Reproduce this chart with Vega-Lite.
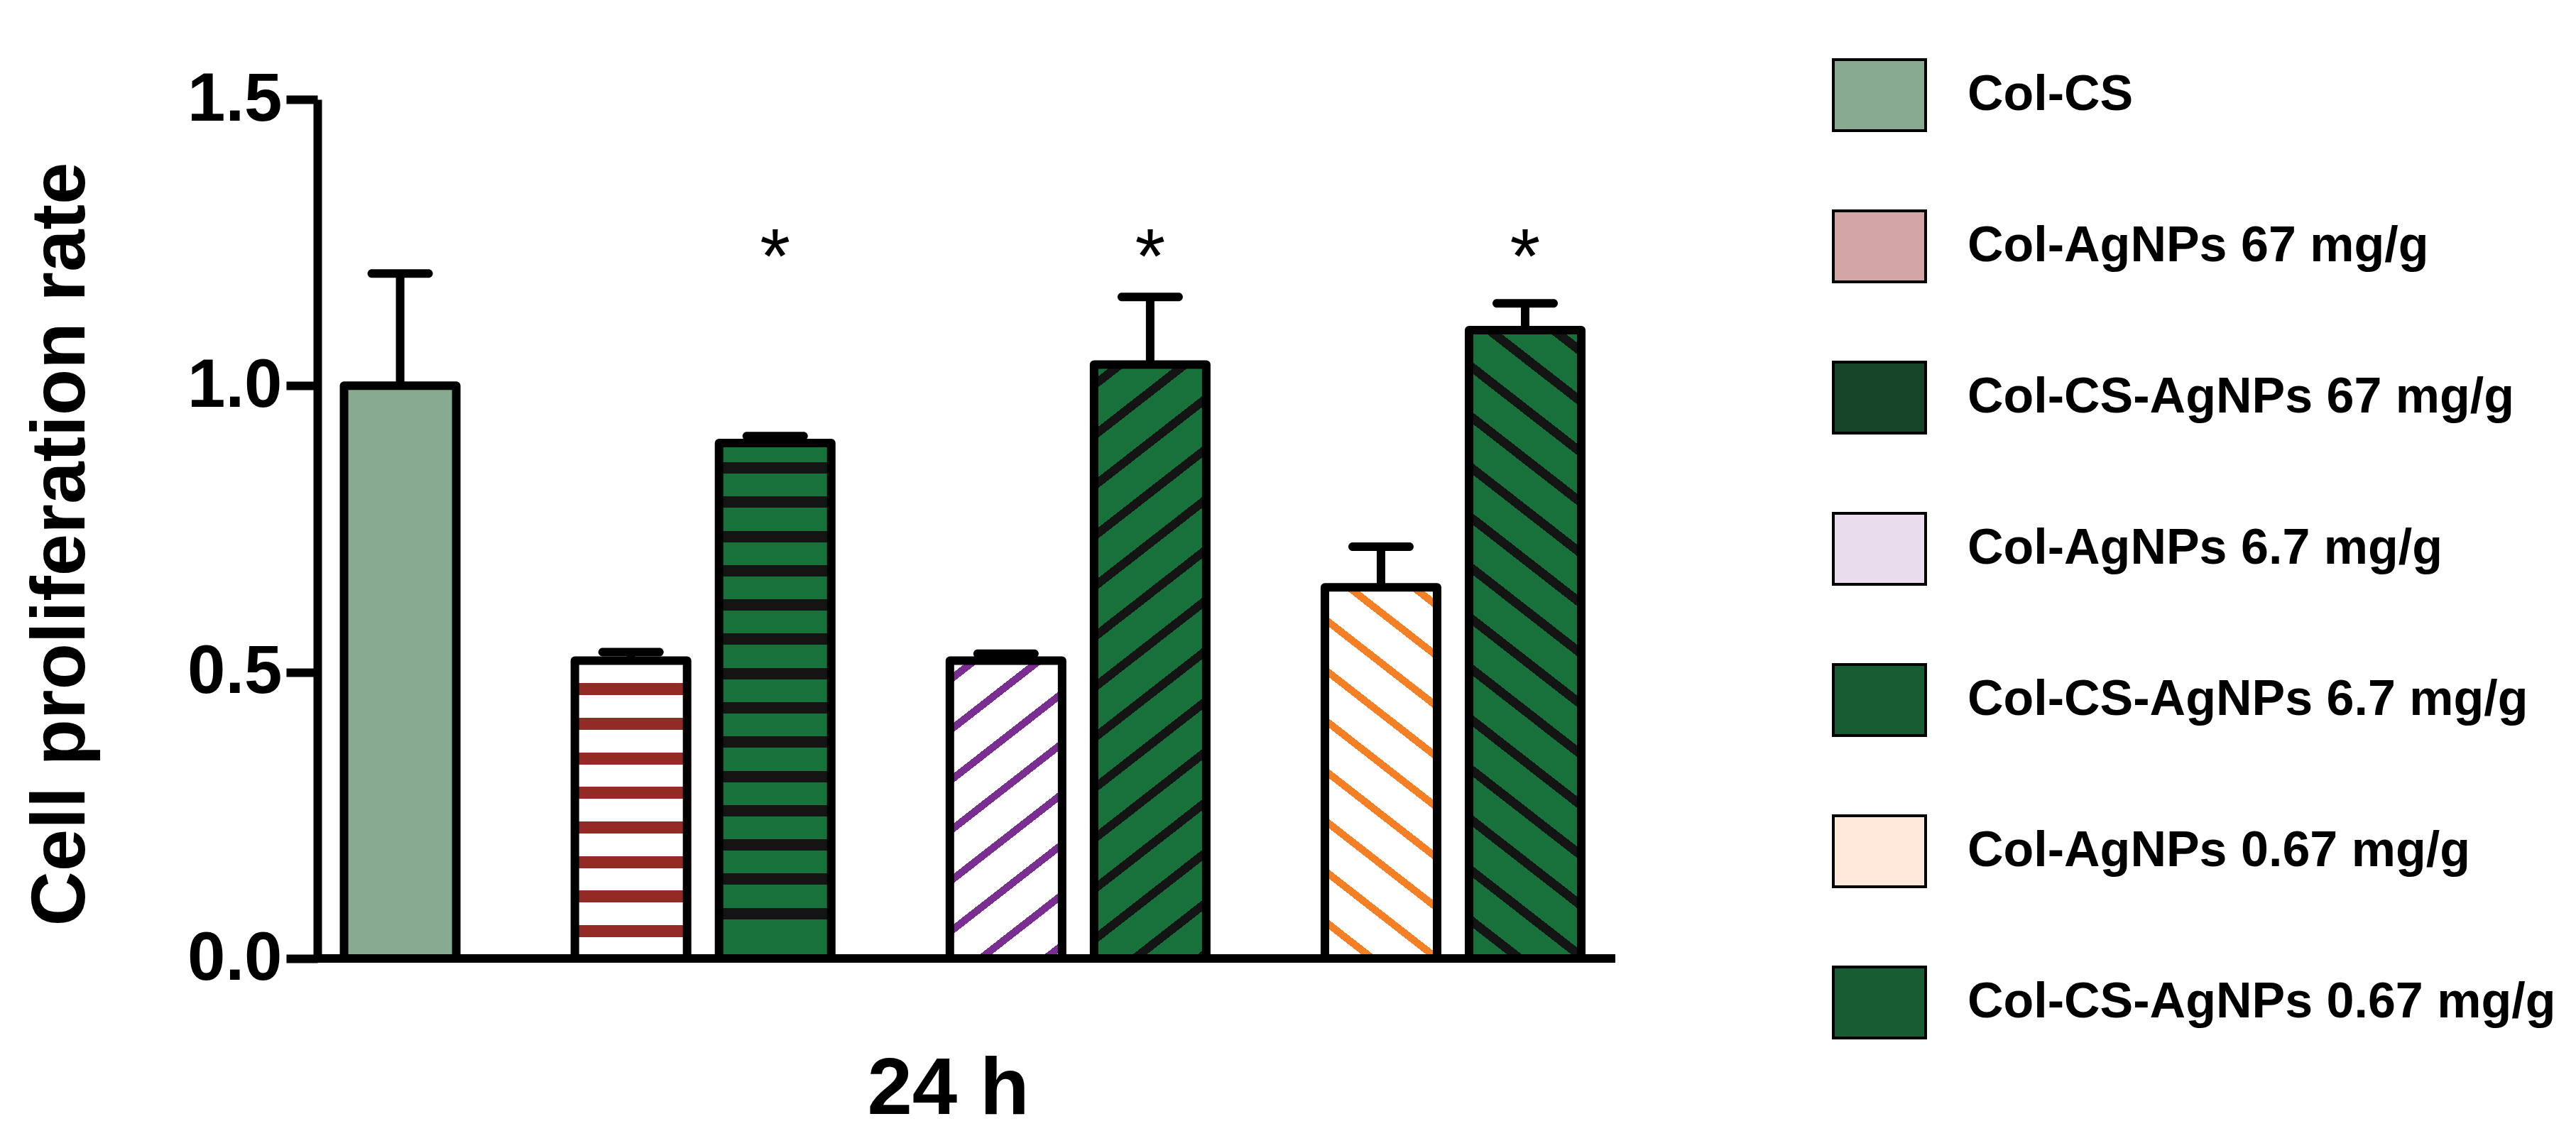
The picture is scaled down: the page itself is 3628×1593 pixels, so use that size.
{
"$schema": "https://vega.github.io/schema/vega-lite/v6.json",
"width": 2016,
"height": 1210,
"autosize": {"type": "none"},
"padding": {"left": 259, "top": 140, "right": 1353, "bottom": 243},
"background": "white",
"config": {"view": {"stroke": null}, "axis": {"grid": false}},
"data": {"values": [
{"series": "Col-CS", "dose": "0", "base": "Col-CS", "rate": 1.0, "upper": 1.196, "sig": ""},
{"series": "Col-AgNPs 67 mg/g", "dose": "67", "base": "Col", "rate": 0.52, "upper": 0.535, "sig": ""},
{"series": "Col-CS-AgNPs 67 mg/g", "dose": "67", "base": "Col-CS", "rate": 0.90, "upper": 0.912, "sig": "*"},
{"series": "Col-AgNPs 6.7 mg/g", "dose": "6.7", "base": "Col", "rate": 0.52, "upper": 0.532, "sig": ""},
{"series": "Col-CS-AgNPs 6.7 mg/g", "dose": "6.7", "base": "Col-CS", "rate": 1.037, "upper": 1.155, "sig": "*"},
{"series": "Col-AgNPs 0.67 mg/g", "dose": "0.67", "base": "Col", "rate": 0.648, "upper": 0.719, "sig": ""},
{"series": "Col-CS-AgNPs 0.67 mg/g", "dose": "0.67", "base": "Col-CS", "rate": 1.097, "upper": 1.144, "sig": "*"}
]},
"layer": [
{
"mark": {"type": "bar", "stroke": "black", "strokeWidth": 12, "strokeJoin": "round"},
"encoding": {
"x": {"field": "dose", "type": "nominal", "sort": null,
 "scale": {"domain": ["0", "67", "6.7", "0.67"], "paddingInner": 0.2311, "paddingOuter": 0.0241, "align": 0},
 "axis": {"title": "24 h", "labels": false, "ticks": false, "domain": false, "titleFont": "Liberation Sans", "titleFontSize": 114, "titleFontWeight": "bold", "titleColor": "black", "titleX": 1076, "titleY": 218, "titleAlign": "center", "titleBaseline": "alphabetic"}},
"xOffset": {"field": "base", "type": "nominal", "scale": {"domain": ["Col", "Col-CS"], "paddingInner": 0.2217, "paddingOuter": 0.1108}},
"y": {"field": "rate", "type": "quantitative",
 "scale": {"domain": [0, 1.5], "nice": false, "zero": true},
 "axis": {"title": "Cell proliferation rate", "values": [0, 0.5, 1, 1.5], "format": ".1f", "offset": -188,
  "domainColor": "black", "domainWidth": 12, "tickColor": "black", "tickWidth": 12, "tickSize": 44,
  "labelFont": "Liberation Sans Narrow, Arial Narrow, Liberation Sans, sans-serif", "labelFontWeight": "bold", "labelFontSize": 96, "labelPadding": 6, "labelColor": "black",
  "titleFont": "Liberation Sans", "titleFontSize": 107, "titleFontWeight": "bold", "titleColor": "black",
  "titleAngle": -90, "titleX": -329, "titleY": 626, "titleAlign": "center", "titleBaseline": "alphabetic"}},
"fill": {"field": "series", "type": "nominal",
 "scale": {"domain": ["Col-CS", "Col-AgNPs 67 mg/g", "Col-CS-AgNPs 67 mg/g", "Col-AgNPs 6.7 mg/g", "Col-CS-AgNPs 6.7 mg/g", "Col-AgNPs 0.67 mg/g", "Col-CS-AgNPs 0.67 mg/g"],
  "range": ["#88aa90", "#d1a6a4", "#164428", "#e9dcec", "#175c32", "#fee9da", "#175c32"]},
 "legend": {"orient": "none", "legendX": 2336, "legendY": -58, "title": null,
  "symbolType": "M-1.3,-1H1.3V1H-1.3Z", "symbolSize": 10000, "symbolStrokeWidth": 4, "symbolStrokeColor": "black", "symbolOpacity": 1,
  "labelFont": "Liberation Sans", "labelFontSize": 70, "labelFontWeight": "bold", "labelColor": "black", "labelOffset": 72, "labelLimit": 0,
  "rowPadding": 97, "padding": 0, "offset": 0},
 "condition": [
  {"test": "datum.series === 'Col-AgNPs 67 mg/g'", "value": {"gradient": "linear", "x1": 0, "y1": 0, "x2": 0, "y2": 1, "stops": [
   {"offset": 0, "color": "#ffffff"},
   {"offset": 0.075, "color": "#ffffff"}, {"offset": 0.075, "color": "#922b26"}, {"offset": 0.115, "color": "#922b26"}, {"offset": 0.115, "color": "#ffffff"},
   {"offset": 0.192, "color": "#ffffff"}, {"offset": 0.192, "color": "#922b26"}, {"offset": 0.232, "color": "#922b26"}, {"offset": 0.232, "color": "#ffffff"},
   {"offset": 0.309, "color": "#ffffff"}, {"offset": 0.309, "color": "#922b26"}, {"offset": 0.349, "color": "#922b26"}, {"offset": 0.349, "color": "#ffffff"},
   {"offset": 0.423, "color": "#ffffff"}, {"offset": 0.423, "color": "#922b26"}, {"offset": 0.463, "color": "#922b26"}, {"offset": 0.463, "color": "#ffffff"},
   {"offset": 0.540, "color": "#ffffff"}, {"offset": 0.540, "color": "#922b26"}, {"offset": 0.580, "color": "#922b26"}, {"offset": 0.580, "color": "#ffffff"},
   {"offset": 0.657, "color": "#ffffff"}, {"offset": 0.657, "color": "#922b26"}, {"offset": 0.697, "color": "#922b26"}, {"offset": 0.697, "color": "#ffffff"},
   {"offset": 0.771, "color": "#ffffff"}, {"offset": 0.771, "color": "#922b26"}, {"offset": 0.811, "color": "#922b26"}, {"offset": 0.811, "color": "#ffffff"},
   {"offset": 0.888, "color": "#ffffff"}, {"offset": 0.888, "color": "#922b26"}, {"offset": 0.928, "color": "#922b26"}, {"offset": 0.928, "color": "#ffffff"},
   {"offset": 1, "color": "#ffffff"}]}},
  {"test": "datum.series === 'Col-CS-AgNPs 67 mg/g'", "value": {"gradient": "linear", "x1": 0, "y1": 0, "x2": 0, "y2": 1, "stops": [
   {"offset": 0, "color": "#18713a"},
   {"offset": 0.037, "color": "#18713a"}, {"offset": 0.037, "color": "#141414"}, {"offset": 0.059, "color": "#141414"}, {"offset": 0.059, "color": "#18713a"},
   {"offset": 0.103, "color": "#18713a"}, {"offset": 0.103, "color": "#141414"}, {"offset": 0.125, "color": "#141414"}, {"offset": 0.125, "color": "#18713a"},
   {"offset": 0.171, "color": "#18713a"}, {"offset": 0.171, "color": "#141414"}, {"offset": 0.193, "color": "#141414"}, {"offset": 0.193, "color": "#18713a"},
   {"offset": 0.237, "color": "#18713a"}, {"offset": 0.237, "color": "#141414"}, {"offset": 0.259, "color": "#141414"}, {"offset": 0.259, "color": "#18713a"},
   {"offset": 0.303, "color": "#18713a"}, {"offset": 0.303, "color": "#141414"}, {"offset": 0.325, "color": "#141414"}, {"offset": 0.325, "color": "#18713a"},
   {"offset": 0.369, "color": "#18713a"}, {"offset": 0.369, "color": "#141414"}, {"offset": 0.391, "color": "#141414"}, {"offset": 0.391, "color": "#18713a"},
   {"offset": 0.437, "color": "#18713a"}, {"offset": 0.437, "color": "#141414"}, {"offset": 0.459, "color": "#141414"}, {"offset": 0.459, "color": "#18713a"},
   {"offset": 0.503, "color": "#18713a"}, {"offset": 0.503, "color": "#141414"}, {"offset": 0.525, "color": "#141414"}, {"offset": 0.525, "color": "#18713a"},
   {"offset": 0.569, "color": "#18713a"}, {"offset": 0.569, "color": "#141414"}, {"offset": 0.591, "color": "#141414"}, {"offset": 0.591, "color": "#18713a"},
   {"offset": 0.636, "color": "#18713a"}, {"offset": 0.636, "color": "#141414"}, {"offset": 0.658, "color": "#141414"}, {"offset": 0.658, "color": "#18713a"},
   {"offset": 0.703, "color": "#18713a"}, {"offset": 0.703, "color": "#141414"}, {"offset": 0.725, "color": "#141414"}, {"offset": 0.725, "color": "#18713a"},
   {"offset": 0.769, "color": "#18713a"}, {"offset": 0.769, "color": "#141414"}, {"offset": 0.791, "color": "#141414"}, {"offset": 0.791, "color": "#18713a"},
   {"offset": 0.835, "color": "#18713a"}, {"offset": 0.835, "color": "#141414"}, {"offset": 0.857, "color": "#141414"}, {"offset": 0.857, "color": "#18713a"},
   {"offset": 0.902, "color": "#18713a"}, {"offset": 0.902, "color": "#141414"}, {"offset": 0.924, "color": "#141414"}, {"offset": 0.924, "color": "#18713a"},
   {"offset": 1, "color": "#18713a"}]}},
  {"test": "datum.series === 'Col-AgNPs 6.7 mg/g'", "value": {"gradient": "linear", "x1": 0, "y1": 0, "x2": 0.3498, "y2": 1.191, "stops": [
   {"offset": 0, "color": "#ffffff"},
   {"offset": 0.038, "color": "#ffffff"}, {"offset": 0.038, "color": "#7b2e91"}, {"offset": 0.062, "color": "#7b2e91"}, {"offset": 0.062, "color": "#ffffff"},
   {"offset": 0.169, "color": "#ffffff"}, {"offset": 0.169, "color": "#7b2e91"}, {"offset": 0.193, "color": "#7b2e91"}, {"offset": 0.193, "color": "#ffffff"},
   {"offset": 0.300, "color": "#ffffff"}, {"offset": 0.300, "color": "#7b2e91"}, {"offset": 0.324, "color": "#7b2e91"}, {"offset": 0.324, "color": "#ffffff"},
   {"offset": 0.430, "color": "#ffffff"}, {"offset": 0.430, "color": "#7b2e91"}, {"offset": 0.454, "color": "#7b2e91"}, {"offset": 0.454, "color": "#ffffff"},
   {"offset": 0.561, "color": "#ffffff"}, {"offset": 0.561, "color": "#7b2e91"}, {"offset": 0.585, "color": "#7b2e91"}, {"offset": 0.585, "color": "#ffffff"},
   {"offset": 0.692, "color": "#ffffff"}, {"offset": 0.692, "color": "#7b2e91"}, {"offset": 0.716, "color": "#7b2e91"}, {"offset": 0.716, "color": "#ffffff"},
   {"offset": 0.823, "color": "#ffffff"}, {"offset": 0.823, "color": "#7b2e91"}, {"offset": 0.847, "color": "#7b2e91"}, {"offset": 0.847, "color": "#ffffff"},
   {"offset": 0.954, "color": "#ffffff"}, {"offset": 0.954, "color": "#7b2e91"}, {"offset": 0.978, "color": "#7b2e91"}, {"offset": 0.978, "color": "#ffffff"},
   {"offset": 1, "color": "#ffffff"}]}},
  {"test": "datum.series === 'Col-CS-AgNPs 6.7 mg/g'", "value": {"gradient": "linear", "x1": 0, "y1": 0, "x2": 0.1654, "y2": 1.1229, "stops": [
   {"offset": 0, "color": "#18713a"},
   {"offset": 0.022, "color": "#18713a"}, {"offset": 0.022, "color": "#141414"}, {"offset": 0.038, "color": "#141414"}, {"offset": 0.038, "color": "#18713a"},
   {"offset": 0.096, "color": "#18713a"}, {"offset": 0.096, "color": "#141414"}, {"offset": 0.112, "color": "#141414"}, {"offset": 0.112, "color": "#18713a"},
   {"offset": 0.170, "color": "#18713a"}, {"offset": 0.170, "color": "#141414"}, {"offset": 0.186, "color": "#141414"}, {"offset": 0.186, "color": "#18713a"},
   {"offset": 0.244, "color": "#18713a"}, {"offset": 0.244, "color": "#141414"}, {"offset": 0.260, "color": "#141414"}, {"offset": 0.260, "color": "#18713a"},
   {"offset": 0.318, "color": "#18713a"}, {"offset": 0.318, "color": "#141414"}, {"offset": 0.334, "color": "#141414"}, {"offset": 0.334, "color": "#18713a"},
   {"offset": 0.392, "color": "#18713a"}, {"offset": 0.392, "color": "#141414"}, {"offset": 0.408, "color": "#141414"}, {"offset": 0.408, "color": "#18713a"},
   {"offset": 0.466, "color": "#18713a"}, {"offset": 0.466, "color": "#141414"}, {"offset": 0.482, "color": "#141414"}, {"offset": 0.482, "color": "#18713a"},
   {"offset": 0.540, "color": "#18713a"}, {"offset": 0.540, "color": "#141414"}, {"offset": 0.556, "color": "#141414"}, {"offset": 0.556, "color": "#18713a"},
   {"offset": 0.614, "color": "#18713a"}, {"offset": 0.614, "color": "#141414"}, {"offset": 0.630, "color": "#141414"}, {"offset": 0.630, "color": "#18713a"},
   {"offset": 0.688, "color": "#18713a"}, {"offset": 0.688, "color": "#141414"}, {"offset": 0.704, "color": "#141414"}, {"offset": 0.704, "color": "#18713a"},
   {"offset": 0.762, "color": "#18713a"}, {"offset": 0.762, "color": "#141414"}, {"offset": 0.778, "color": "#141414"}, {"offset": 0.778, "color": "#18713a"},
   {"offset": 0.836, "color": "#18713a"}, {"offset": 0.836, "color": "#141414"}, {"offset": 0.852, "color": "#141414"}, {"offset": 0.852, "color": "#18713a"},
   {"offset": 0.910, "color": "#18713a"}, {"offset": 0.910, "color": "#141414"}, {"offset": 0.926, "color": "#141414"}, {"offset": 0.926, "color": "#18713a"},
   {"offset": 0.984, "color": "#18713a"}, {"offset": 0.984, "color": "#141414"}, {"offset": 1, "color": "#141414"}]}},
  {"test": "datum.series === 'Col-AgNPs 0.67 mg/g'", "value": {"gradient": "linear", "x1": 1, "y1": 0, "x2": 0.7241, "y2": 1.1707, "stops": [
   {"offset": 0, "color": "#ffffff"},
   {"offset": 0.030, "color": "#ffffff"}, {"offset": 0.030, "color": "#f47f24"}, {"offset": 0.050, "color": "#f47f24"}, {"offset": 0.050, "color": "#ffffff"},
   {"offset": 0.140, "color": "#ffffff"}, {"offset": 0.140, "color": "#f47f24"}, {"offset": 0.160, "color": "#f47f24"}, {"offset": 0.160, "color": "#ffffff"},
   {"offset": 0.250, "color": "#ffffff"}, {"offset": 0.250, "color": "#f47f24"}, {"offset": 0.270, "color": "#f47f24"}, {"offset": 0.270, "color": "#ffffff"},
   {"offset": 0.360, "color": "#ffffff"}, {"offset": 0.360, "color": "#f47f24"}, {"offset": 0.380, "color": "#f47f24"}, {"offset": 0.380, "color": "#ffffff"},
   {"offset": 0.470, "color": "#ffffff"}, {"offset": 0.470, "color": "#f47f24"}, {"offset": 0.490, "color": "#f47f24"}, {"offset": 0.490, "color": "#ffffff"},
   {"offset": 0.580, "color": "#ffffff"}, {"offset": 0.580, "color": "#f47f24"}, {"offset": 0.600, "color": "#f47f24"}, {"offset": 0.600, "color": "#ffffff"},
   {"offset": 0.689, "color": "#ffffff"}, {"offset": 0.689, "color": "#f47f24"}, {"offset": 0.709, "color": "#f47f24"}, {"offset": 0.709, "color": "#ffffff"},
   {"offset": 0.799, "color": "#ffffff"}, {"offset": 0.799, "color": "#f47f24"}, {"offset": 0.819, "color": "#f47f24"}, {"offset": 0.819, "color": "#ffffff"},
   {"offset": 0.909, "color": "#ffffff"}, {"offset": 0.909, "color": "#f47f24"}, {"offset": 0.929, "color": "#f47f24"}, {"offset": 0.929, "color": "#ffffff"},
   {"offset": 1, "color": "#ffffff"}]}},
  {"test": "datum.series === 'Col-CS-AgNPs 0.67 mg/g'", "value": {"gradient": "linear", "x1": 1, "y1": 0, "x2": 0.8444, "y2": 1.1175, "stops": [
   {"offset": 0, "color": "#18713a"},
   {"offset": 0.022, "color": "#18713a"}, {"offset": 0.022, "color": "#141414"}, {"offset": 0.038, "color": "#141414"}, {"offset": 0.038, "color": "#18713a"},
   {"offset": 0.092, "color": "#18713a"}, {"offset": 0.092, "color": "#141414"}, {"offset": 0.108, "color": "#141414"}, {"offset": 0.108, "color": "#18713a"},
   {"offset": 0.163, "color": "#18713a"}, {"offset": 0.163, "color": "#141414"}, {"offset": 0.179, "color": "#141414"}, {"offset": 0.179, "color": "#18713a"},
   {"offset": 0.233, "color": "#18713a"}, {"offset": 0.233, "color": "#141414"}, {"offset": 0.249, "color": "#141414"}, {"offset": 0.249, "color": "#18713a"},
   {"offset": 0.304, "color": "#18713a"}, {"offset": 0.304, "color": "#141414"}, {"offset": 0.320, "color": "#141414"}, {"offset": 0.320, "color": "#18713a"},
   {"offset": 0.374, "color": "#18713a"}, {"offset": 0.374, "color": "#141414"}, {"offset": 0.390, "color": "#141414"}, {"offset": 0.390, "color": "#18713a"},
   {"offset": 0.444, "color": "#18713a"}, {"offset": 0.444, "color": "#141414"}, {"offset": 0.460, "color": "#141414"}, {"offset": 0.460, "color": "#18713a"},
   {"offset": 0.515, "color": "#18713a"}, {"offset": 0.515, "color": "#141414"}, {"offset": 0.531, "color": "#141414"}, {"offset": 0.531, "color": "#18713a"},
   {"offset": 0.585, "color": "#18713a"}, {"offset": 0.585, "color": "#141414"}, {"offset": 0.601, "color": "#141414"}, {"offset": 0.601, "color": "#18713a"},
   {"offset": 0.656, "color": "#18713a"}, {"offset": 0.656, "color": "#141414"}, {"offset": 0.672, "color": "#141414"}, {"offset": 0.672, "color": "#18713a"},
   {"offset": 0.726, "color": "#18713a"}, {"offset": 0.726, "color": "#141414"}, {"offset": 0.742, "color": "#141414"}, {"offset": 0.742, "color": "#18713a"},
   {"offset": 0.796, "color": "#18713a"}, {"offset": 0.796, "color": "#141414"}, {"offset": 0.812, "color": "#141414"}, {"offset": 0.812, "color": "#18713a"},
   {"offset": 0.867, "color": "#18713a"}, {"offset": 0.867, "color": "#141414"}, {"offset": 0.883, "color": "#141414"}, {"offset": 0.883, "color": "#18713a"},
   {"offset": 0.937, "color": "#18713a"}, {"offset": 0.937, "color": "#141414"}, {"offset": 0.953, "color": "#141414"}, {"offset": 0.953, "color": "#18713a"},
   {"offset": 1, "color": "#18713a"}]}}
 ]}
}
},
{
"mark": {"type": "rule", "color": "black", "strokeWidth": 12},
"encoding": {
"x": {"field": "dose", "type": "nominal"},
"xOffset": {"field": "base", "type": "nominal"},
"y": {"field": "rate", "type": "quantitative"},
"y2": {"field": "upper"}
}
},
{
"mark": {"type": "tick", "orient": "horizontal", "color": "black", "opacity": 1, "size": 92, "thickness": 12, "cornerRadius": 6},
"encoding": {
"x": {"field": "dose", "type": "nominal"},
"xOffset": {"field": "base", "type": "nominal"},
"y": {"field": "upper", "type": "quantitative"}
}
},
{
"mark": {"type": "rule", "color": "black", "strokeWidth": 12},
"encoding": {
"x": {"datum": "0", "bandPosition": 0.463},
"x2": {"value": "width"},
"y": {"datum": 0}
}
},
{
"mark": {"type": "text", "font": "Liberation Sans", "fontSize": 110, "color": "black", "align": "center", "baseline": "alphabetic"},
"encoding": {
"x": {"field": "dose", "type": "nominal"},
"xOffset": {"field": "base", "type": "nominal"},
"y": {"datum": 1.18},
"text": {"field": "sig"}
}
}
]
}
